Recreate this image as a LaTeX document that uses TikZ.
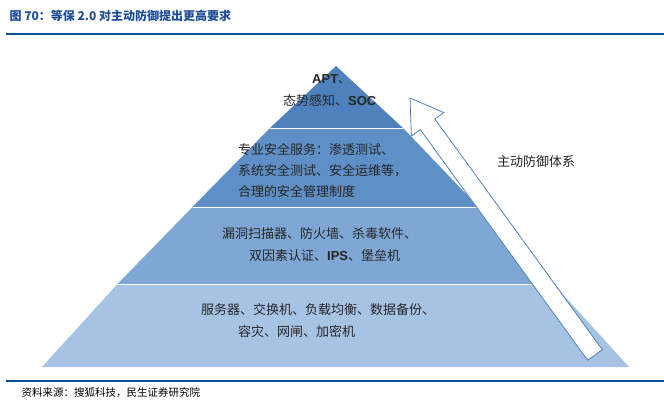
\documentclass[tikz,border=0pt]{standalone}
\usepackage{fontspec}
\setmainfont{Liberation Serif}
\newfontfamily\cjk{Noto Sans CJK SC}
\newfontfamily\lat{Liberation Sans}
\begin{document}
\begin{tikzpicture}[x=1pt,y=-1pt,
  txt/.style={font=\cjk\fontsize{13}{21}\selectfont, align=left, text=black!85, inner sep=0pt}]
\useasboundingbox (0,0) rectangle (664,402);
\fill[white] (0,0) rectangle (664,402);
\node[anchor=west, text={rgb,255:red,31;green,78;blue,154}, font=\cjk\bfseries\fontsize{12}{14}\selectfont] (title) at (6,16) {图 70：等保 2.0 对主动防御提出更高要求};
\draw[line width=2pt, draw={rgb,255:red,0;green,84;blue,147}] (6,34) -- (664,34);
\coordinate (A) at (336,66);
% layers
\fill[fill={rgb,255:red,167;green,195;blue,228}] (42,367) -- (629,367) -- (553.5,284) -- (117.5,284) -- cycle;
\fill[fill={rgb,255:red,127;green,167;blue,213}] (117.5,284) -- (553.5,284) -- (478.5,207) -- (192.5,207) -- cycle;
\fill[fill={rgb,255:red,94;green,143;blue,198}] (192.5,207) -- (478.5,207) -- (403,128) -- (270,128) -- cycle;
\fill[fill={rgb,255:red,79;green,129;blue,189}] (270,128) -- (403,128) -- (A) -- cycle;
\draw[white, line width=0.8pt] (117.5,284) -- (553.5,284) (192.5,207) -- (478.5,207) (270,128) -- (403,128);
% texts
\node[txt, anchor=west] (t1) at (312,79) {{\lat\bfseries APT}、};
\node[txt, anchor=west] (t1b) at (283,101) {态势感知、{\lat\bfseries SOC}};
\node[txt, anchor=north west] (t2) at (238,143) {专业安全服务：渗透测试、\\系统安全测试、安全运维等，\\合理的安全管理制度};
\node[txt, anchor=west] (t3) at (222,234) {漏洞扫描器、防火墙、杀毒软件、};
\node[txt, anchor=west] (t3b) at (249,256) {双因素认证、{\lat\bfseries IPS}、堡垒机};
\node[txt, anchor=west] (t4) at (201,310) {服务器、交换机、负载均衡、数据备份、};
\node[txt, anchor=west] (t4b) at (238,332) {容灾、网闸、加密机};
% arrow
\draw[draw={rgb,255:red,79;green,129;blue,189}, fill=white, line width=0.8pt]
  (410,98) -- (411.4,136.0) -- (420.3,129.6) -- (587.7,360.3) -- (602.3,349.7) -- (434.9,119.0) -- (443.8,112.6) -- cycle;
\node[txt, anchor=west] (lab) at (497,162) {主动防御体系};
\draw[line width=2pt, draw={rgb,255:red,0;green,84;blue,147}] (6,381) -- (664,381);
\node[anchor=west, font=\cjk\fontsize{10.5}{12}\selectfont] (src) at (18,393) {资料来源：搜狐科技，民生证券研究院};
\end{tikzpicture}
\end{document}
